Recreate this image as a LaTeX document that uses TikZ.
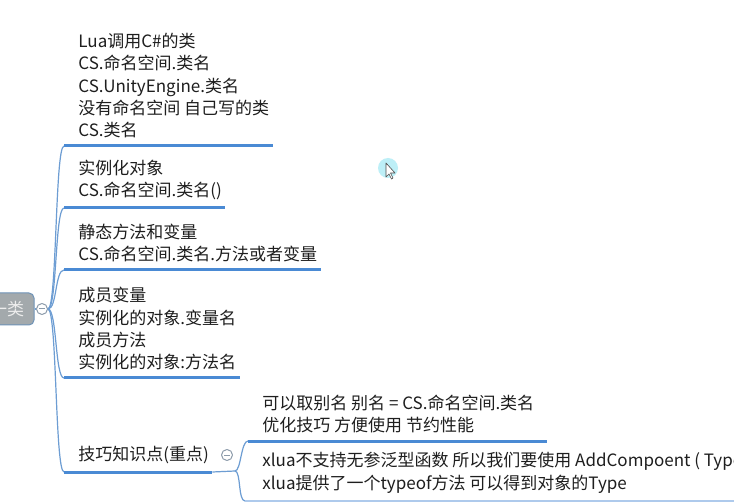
\documentclass[tikz,border=0pt]{standalone}
\usepackage{fontspec}
\newfontfamily\cjk{Noto Sans CJK SC}
\usepackage{tikz}
\usetikzlibrary{calc, positioning}
\definecolor{mline}{HTML}{4A8AD4}
\definecolor{mbranch}{HTML}{6D9DD3}
\definecolor{mtext}{HTML}{1E1E1E}
\definecolor{mroot}{HTML}{A3A9AC}
\definecolor{mrootedge}{HTML}{6E93B8}
\definecolor{mfold}{HTML}{8C9BAA}
\definecolor{mcursor}{HTML}{BDEFF7}
\newcommand\mmfont{\cjk\fontsize{8.5pt}{11.15pt}\selectfont}
\tikzset{
  topic/.style={anchor=south west, align=left, inner xsep=0pt, inner ysep=3.8pt,
                text=mtext, font=\mmfont},
  rootbox/.style={draw=mrootedge, fill=mroot, rounded corners=2.5pt, line width=0.5pt,
                  minimum width=27pt, minimum height=16pt, inner sep=0pt,
                  text=white!93!black, font=\mmfont},
  fold/.style={circle, draw=mfold, fill=white, line width=0.5pt, minimum size=5.5pt,
               inner sep=0pt,
               path picture={\draw[mfold, line width=0.5pt]
                 ([xshift=-1.4pt]path picture bounding box.center) --
                 ([xshift=1.4pt]path picture bounding box.center);}},
  uline/.style={line width=1.5pt, mline},
  branch/.style={line width=0.6pt, mbranch},
}

\begin{document}
\begin{tikzpicture}[x=0.5pt, y=-0.5pt, line join=round]
  \useasboundingbox (0,0) rectangle (734,502);
  \fill[white] (0,0) rectangle (734,502);
  \clip (0,0) rectangle (734,502);

  %% ── root ──
  \node[rootbox] (root) at (7,309) {一类};
  \node[fold] (rootc) at (42,309) {};
  \draw[branch] (root.east) -- (rootc.west);

  %% ── topics ──
  \node[topic] (t1) at (78,146) {Lua调用C\#的类\\CS.命名空间.类名\\CS.UnityEngine.类名\\没有命名空间 自己写的类\\CS.类名};
  \node[topic] (t2) at (78,208) {实例化对象\\CS.命名空间.类名()};
  \node[topic] (t3) at (78,270) {静态方法和变量\\CS.命名空间.类名.方法或者变量};
  \node[topic] (t4) at (78,378) {成员变量\\实例化的对象.变量名\\成员方法\\实例化的对象:方法名};
  \node[topic] (t5) at (78,472) {技巧知识点(重点)};

  \foreach \t in {t1,t2,t3,t4,t5} {
    \coordinate (\t u) at ($(\t.south west)+(-14,0)$);
    \draw[branch] (rootc.east) .. controls +(9,0) and +(-9,0) .. (\t u);
    \draw[uline] (\t u) -- ($(\t.south east)+(3,0)$);
  }

  %% ── sub topics of t5 ──
  \node[fold] (t5c) at (227,455) {};
  \coordinate (t5o) at (235,471);
  \draw[branch] ($(t5.south east)+(3,0)$) -- (t5o);

  \node[topic] (s1) at (262,441) {可以取别名 别名 = CS.命名空间.类名\\优化技巧 方便使用 节约性能};
  \node[topic] (s2) at (262,501) {xlua不支持无参泛型函数 所以我们要使用 AddCompoent ( Type )\\xlua提供了一个typeof方法 可以得到对象的Type};

  \coordinate (s1u) at ($(s1.south west)+(-14,0)$);
  \coordinate (s2u) at ($(s2.south west)+(-17,0)$);
  \draw[branch] (t5o) .. controls +(6,0) and +(-7,0) .. (s1u);
  \draw[branch] (t5o) .. controls +(6,0) and +(-7,0) .. (s2u);
  \draw[uline] (s1u) -- ($(s1.south east)+(12,0)$);
  \draw[uline, mline!45] (s2u) -- (734,501);

  %% ── cursor ──
  \fill[mcursor] (388,168) circle (5pt);
  \draw[fill=white, draw=black!70, line width=0.3pt]
    (386,163) -- (386,177) -- (389,174) -- (391.5,179) -- (393,178)
    -- (390.5,173) -- (395,173) -- cycle;
\end{tikzpicture}
\end{document}
